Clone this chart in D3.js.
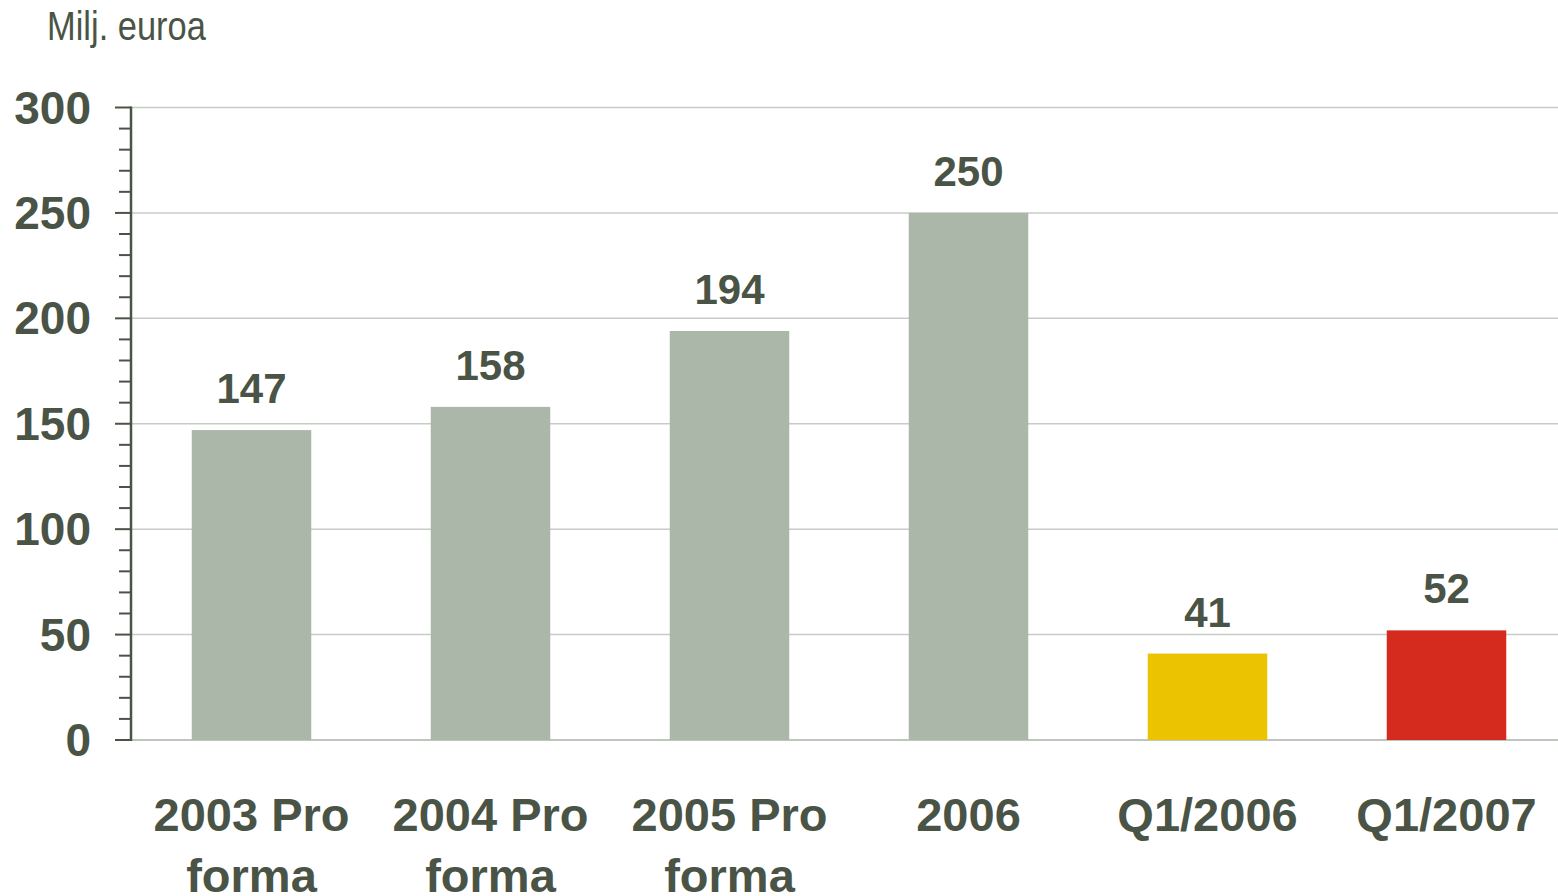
<!DOCTYPE html>
<html><head><meta charset="utf-8">
<script src="https://cdn.jsdelivr.net/npm/d3@7/dist/d3.min.js"></script>
<style>body{margin:0;background:#fff}svg{display:block}</style>
</head><body>
<svg id="c" width="1558" height="896"></svg>
<script>
const categories = [["2003 Pro","forma"],["2004 Pro","forma"],["2005 Pro","forma"],["2006"],["Q1/2006"],["Q1/2007"]];
const values = [147, 158, 194, 250, 41, 52];
const barColors = ["#abb7a9","#abb7a9","#abb7a9","#abb7a9","#ebc300","#d52b1e"];
const majorTicks = [0, 50, 100, 150, 200, 250, 300];
const minorTicks = d3.range(0, 301, 10);
const unitLabel = "Milj. euroa";

const textColor = "#4a5446";
const svg = d3.select("#c");
const x = d3.scaleBand().domain(d3.range(categories.length)).range([132, 1566])
  .paddingInner(0.5).paddingOuter(0.25);
const y = d3.scaleLinear().domain([0, 300]).range([740, 107.5]);

// gridlines
svg.append("g").selectAll("line").data(majorTicks.filter(d => d > 0)).join("line")
  .attr("x1", 131).attr("x2", 1558).attr("y1", d => y(d)).attr("y2", d => y(d))
  .attr("stroke", "#c6cdc5").attr("stroke-width", 1.5);
svg.append("line").attr("x1", 131).attr("x2", 1558).attr("y1", y(0)).attr("y2", y(0))
  .attr("stroke", "#aab3a8").attr("stroke-width", 1.5);

// bars
svg.append("g").selectAll("rect").data(values).join("rect")
  .attr("x", (d, i) => x(i)).attr("width", x.bandwidth())
  .attr("y", d => y(d)).attr("height", d => y(0) - y(d))
  .attr("fill", (d, i) => barColors[i]);

// value labels
svg.append("g").selectAll("text").data(values).join("text")
  .attr("x", (d, i) => x(i) + x.bandwidth() / 2).attr("y", d => y(d) - 27)
  .attr("text-anchor", "middle").attr("fill", textColor)
  .attr("font-family", "Liberation Sans, Arial, sans-serif").attr("font-weight", "bold")
  .attr("font-size", 42).text(d => d);

// y axis
const yAxis = svg.append("g");
yAxis.selectAll("line.minor").data(minorTicks).join("line").attr("class", "minor")
  .attr("x1", d => d % 50 === 0 ? 115 : 119).attr("x2", 131)
  .attr("y1", d => y(d)).attr("y2", d => y(d))
  .attr("stroke", textColor).attr("stroke-width", 2);
yAxis.append("line").attr("x1", 131).attr("x2", 131).attr("y1", y(300) - 1).attr("y2", y(0) + 1)
  .attr("stroke", textColor).attr("stroke-width", 2.5);
yAxis.selectAll("text").data(majorTicks).join("text")
  .attr("x", 91).attr("y", d => y(d) + 16)
  .attr("text-anchor", "end").attr("fill", textColor)
  .attr("font-family", "Liberation Sans, Arial, sans-serif").attr("font-weight", "bold")
  .attr("font-size", 46).text(d => d);

// category labels
const cat = svg.append("g").selectAll("text").data(categories).join("text")
  .attr("x", (d, i) => x(i) + x.bandwidth() / 2).attr("y", 831)
  .attr("text-anchor", "middle").attr("fill", textColor)
  .attr("font-family", "Liberation Sans, Arial, sans-serif").attr("font-weight", "bold")
  .attr("font-size", 47);
cat.selectAll("tspan").data((d) => d).join("tspan")
  .attr("x", function() { return this.parentNode.getAttribute("x"); })
  .attr("dy", (d, i) => i === 0 ? 0 : 61).text(d => d);

// unit label (narrow face)
svg.append("text").attr("transform", "translate(47,40) scale(0.84,1)").attr("fill", textColor)
  .attr("font-family", "Liberation Sans Narrow, Liberation Sans, Arial, sans-serif")
  .attr("font-size", 41).text(unitLabel);
</script>
</body></html>
